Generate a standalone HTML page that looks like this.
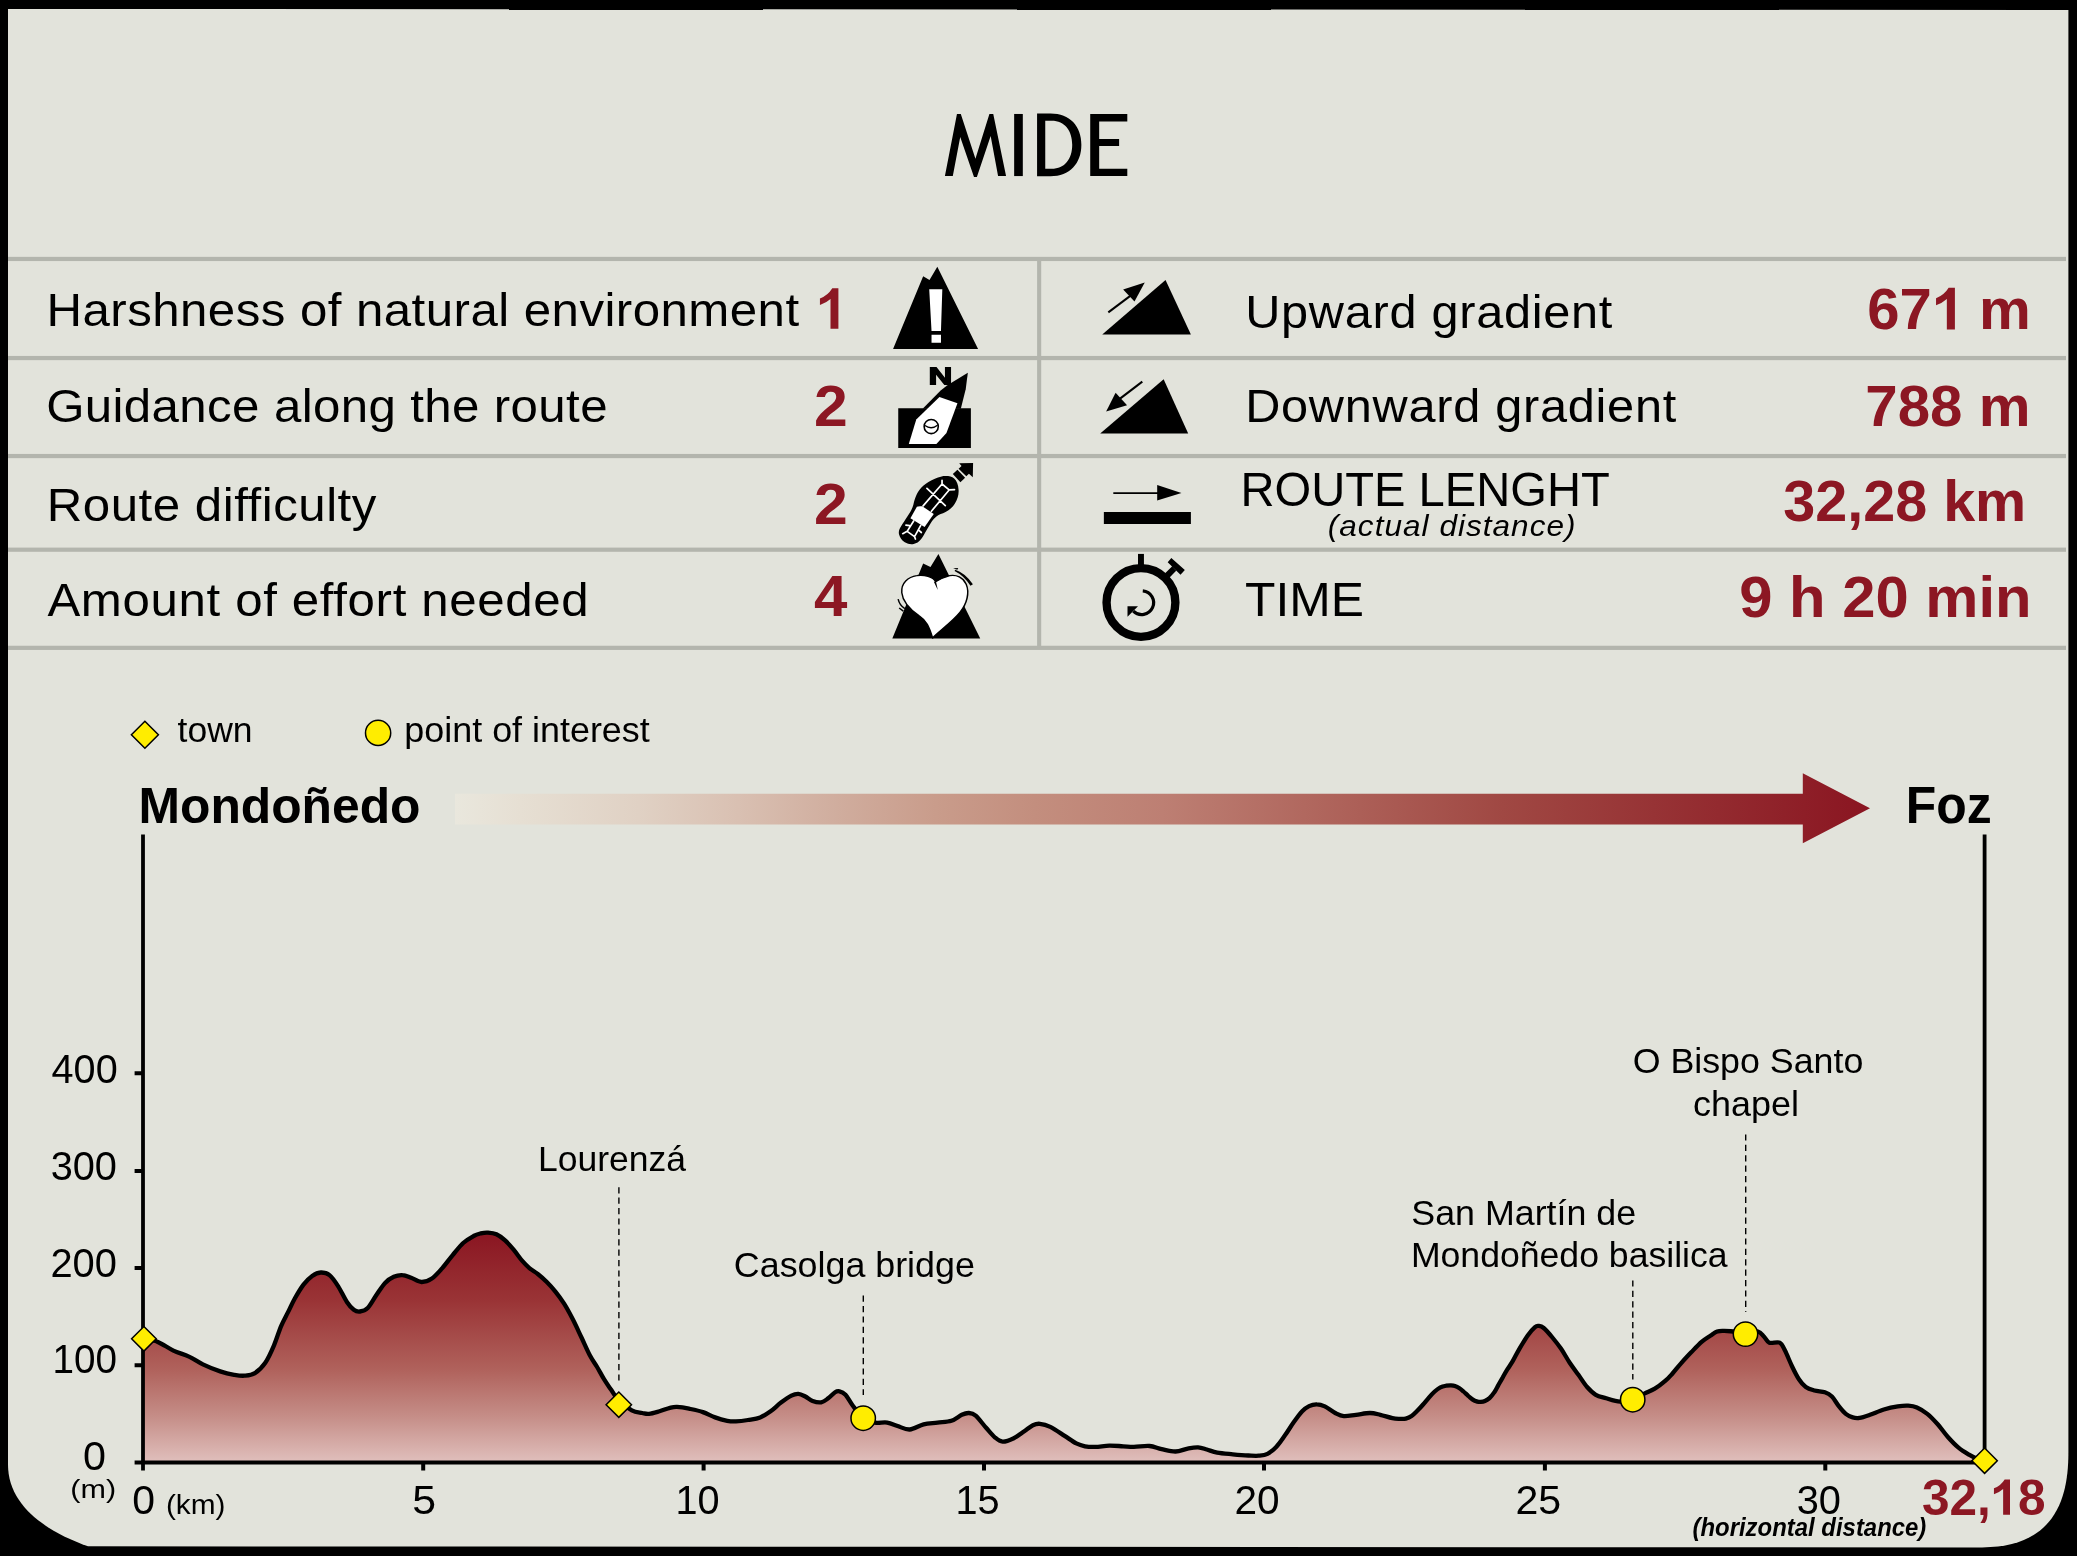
<!DOCTYPE html>
<html lang="en"><head><meta charset="utf-8"><title>MIDE</title>
<style>
html,body{margin:0;padding:0;background:#000;overflow:hidden}
svg{display:block;will-change:transform}
text{font-family:"Liberation Sans",sans-serif}
</style></head><body>
<svg width="2077" height="1556" viewBox="0 0 2077 1556">
<defs>
<linearGradient id="gArrow" gradientUnits="userSpaceOnUse" x1="455" y1="0" x2="1870" y2="0">
<stop offset="0" stop-color="#e9e7dd"/>
<stop offset="0.046" stop-color="#e6dfd3"/>
<stop offset="0.13" stop-color="#e0d1c4"/>
<stop offset="0.20" stop-color="#d9c0b2"/>
<stop offset="0.27" stop-color="#d0ad9e"/>
<stop offset="0.34" stop-color="#c99c8b"/>
<stop offset="0.41" stop-color="#c38e7e"/>
<stop offset="0.5" stop-color="#bd7f73"/>
<stop offset="0.74" stop-color="#a04843"/>
<stop offset="1" stop-color="#8a1521"/>
</linearGradient>
<linearGradient id="gArea" gradientUnits="userSpaceOnUse" x1="0" y1="1232" x2="0" y2="1462">
<stop offset="0" stop-color="#8a1521"/>
<stop offset="0.3" stop-color="#9a3436"/>
<stop offset="0.6" stop-color="#b0625c"/>
<stop offset="0.8" stop-color="#c58d87"/>
<stop offset="1" stop-color="#e0bfbc"/>
</linearGradient>
</defs>
<rect width="2077" height="1556" fill="#000"/>
<!-- panel -->
<path d="M8,9 L2068.4,10 L2068.4,1452.5 C2068.4,1495.7 2056.6,1547.4 1982.1,1547.4 L88,1546.3 C48.8,1532.4 8,1507.3 8,1464.6 Z" fill="#e2e3db"/>

<!-- table grid -->
<g fill="#b3b5ad">
<rect x="8" y="256.85" width="2058" height="4.2"/>
<rect x="8" y="355.95" width="2058" height="4.2"/>
<rect x="8" y="453.95" width="2058" height="4.2"/>
<rect x="8" y="547.6" width="2058" height="4.2"/>
<rect x="8" y="645.75" width="2058" height="4.2"/>
<rect x="1037.1" y="259" width="4.1" height="389"/>
</g>

<!-- ICONS -->
<!-- icon 1: harshness (mountain + !) -->
<g transform="translate(860,250) scale(0.13495)">
<path d="M245,733 L468,195 L515,222 L573,125 L875,733 Z" fill="#000"/>
<path d="M513,290 L610,290 L600,600 L530,600 Z M530,628 H600 V688 H530 Z" fill="#fff"/>
</g>
<!-- icon 2: compass -->
<g transform="translate(890,360) scale(0.06105)">
<path d="M135,790 H1325 V1440 H135 Z" fill="#000"/>
<path d="M652,115 H762 L900,290 V115 H1000 V408 H890 L755,240 V408 H652 Z" fill="#000"/>
<path d="M1275,210 L1000,375 L940,415 L830,500 L535,800 L1160,800 L1240,480 Z" fill="#000"/>
<path d="M810,605 L1105,710 L925,1195 L760,1375 L308,1375 L430,975 Z" fill="#fff"/>
<circle cx="675" cy="1090" r="116" fill="#fff" stroke="#000" stroke-width="26"/>
<path d="M572,1072 Q675,1150 778,1068" fill="none" stroke="#000" stroke-width="22"/>
</g>
<!-- icon 3: boot print -->
<g transform="translate(890,458) scale(0.05914)">
<path d="M940,305 C1000,305 1050,315 1085,345 C1130,385 1155,450 1160,540 C1165,620 1140,700 1100,765 C1060,830 1000,885 940,915 C880,945 830,955 790,985 C750,1015 720,1055 690,1100 C660,1150 630,1200 600,1250 C570,1300 550,1345 520,1380 C490,1420 450,1445 400,1455 C350,1465 300,1455 250,1425 C200,1395 165,1345 152,1290 C140,1235 165,1190 190,1150 C215,1110 235,1080 260,1040 C290,995 320,955 345,910 C370,865 385,830 395,790 C405,750 410,720 425,680 C445,625 465,580 500,535 C540,485 590,440 650,405 C720,365 800,330 860,315 C890,307 915,305 940,305 Z" fill="#000"/>
<path d="M1062,272 L1140,200 L1270,335 L1190,408 Z" fill="#000"/>
<path d="M1170,90 L1405,85 L1400,325 L1335,265 L1290,310 L1160,180 L1210,135 Z" fill="#000"/>
<path d="M455,825 Q470,810 545,815 L740,945 L585,1165 L345,1020 Z" fill="#fff"/>
<g fill="none" stroke="#fff" stroke-width="29" stroke-linecap="round">
<path d="M560,810 L880,440 M700,900 L1000,540 M625,515 L935,805 M880,440 L1000,540 M880,440 L880,380 M1000,540 L1090,535"/>
<path d="M400,1065 L290,1240 M520,1140 L415,1330 M290,1240 L415,1330 M290,1240 L215,1280 M415,1330 L430,1370 M270,1135 L330,1145 M490,1225 L530,1260"/>
</g>
</g>
<!-- icon 4: effort (heart on mountain) -->
<g transform="translate(885,550) scale(0.06105)">
<path d="M120,1450 L625,220 L745,280 L875,65 L1560,1450 Z" fill="#000"/>
<path d="M830,520 C790,440 640,400 520,420 C380,440 260,540 275,700 C290,860 420,980 560,1080 C680,1160 720,1250 780,1440 C900,1320 1100,1180 1230,1020 C1340,880 1390,700 1330,560 C1280,450 1170,400 1060,420 C980,440 880,490 830,520 Z" fill="#fff" stroke="#000" stroke-width="24" stroke-linejoin="round"/>
<path d="M800,520 L835,515 L865,655 Z" fill="#000"/>
<path d="M1150,325 Q1300,370 1440,560 L1400,585 Q1290,420 1140,345 Z" fill="#000"/>
<path d="M1115,298 L1200,296 L1185,322 Z" fill="#000"/>
<path d="M215,805 Q240,910 325,960 M232,950 L300,1000" fill="none" stroke="#000" stroke-width="24"/>
</g>
<!-- icon 5: upward gradient -->
<g transform="translate(1060,250) scale(0.13495)">
<path d="M313,627 L782,222 L970,627 Z" fill="#000"/>
<path d="M358,462 L560,310" stroke="#000" stroke-width="15" fill="none"/>
<path d="M628,240 L468,292 L552,382 Z" fill="#000"/>
<path d="M298,1360 L768,958 L950,1360 Z" fill="#000"/>
<path d="M610,975 L440,1105" stroke="#000" stroke-width="15" fill="none"/>
<path d="M342,1197 L412,1058 L497,1150 Z" fill="#000"/>
</g>
<!-- icon 7: route length ; icon 8: stopwatch -->
<g transform="translate(1060,450) scale(0.13495)">
<path d="M325,460 H970 V548 H325 Z" fill="#000"/>
<path d="M395,320 H730" stroke="#000" stroke-width="13" fill="none"/>
<path d="M900,318 L720,260 L720,375 Z" fill="#000"/>
<circle cx="600" cy="1130" r="255" fill="none" stroke="#000" stroke-width="62"/>
<path d="M578,770 H622 V860 H578 Z" fill="#000"/>
<path d="M825,800 L925,890 L893,925 L798,832 Z M861,894 L830,863 L769,923 L801,955 Z" fill="#000"/>
<path d="M613.4,1043.3 A88,88 0 1 1 543.5,1193.2" fill="none" stroke="#000" stroke-width="24"/>
<path d="M500,1158 L578,1158 L500,1236 Z" fill="#000"/>
</g>


<!-- legend markers -->
<path d="M144.9,721.3 L158.4,734.8 L144.9,748.3 L131.4,734.8 Z" fill="#ffed00" stroke="#000" stroke-width="1.5"/>
<circle cx="378.1" cy="732.9" r="12.6" fill="#ffed00" stroke="#000" stroke-width="1.5"/>

<!-- direction arrow -->
<path d="M455,793.8 L1802.8,793.8 L1802.8,773.3 L1870,808.3 L1802.8,843.3 L1802.8,824.4 L455,824.4 Z" fill="url(#gArrow)"/>

<!-- chart -->
<path d="M143.9,1338.8C146.2,1339.3 152.9,1339.9 157.8,1341.9C162.7,1343.9 168.2,1348.1 173.4,1350.6C178.6,1353.0 184.1,1354.3 189.0,1356.6C193.9,1358.9 197.7,1361.9 202.9,1364.4C208.1,1366.9 215.0,1369.7 220.2,1371.4C225.4,1373.1 230.0,1374.1 234.1,1374.8C238.2,1375.5 241.0,1376.0 244.5,1375.7C248.0,1375.4 251.4,1375.3 254.9,1373.1C258.4,1370.9 262.1,1367.3 265.3,1362.7C268.5,1358.1 271.4,1351.4 274.0,1345.3C276.6,1339.2 278.7,1331.8 281.0,1326.3C283.3,1320.8 285.6,1317.0 287.9,1312.4C290.2,1307.8 292.2,1303.1 294.8,1298.5C297.4,1293.9 300.6,1288.4 303.5,1284.6C306.4,1280.8 309.3,1277.9 312.2,1275.9C315.1,1273.9 318.0,1272.6 320.9,1272.5C323.8,1272.4 326.6,1272.8 329.5,1275.1C332.4,1277.4 335.3,1281.8 338.2,1286.3C341.1,1290.8 344.3,1298.1 346.9,1302.0C349.5,1305.9 351.6,1308.2 353.8,1309.8C356.0,1311.4 357.6,1311.8 359.9,1311.5C362.2,1311.2 364.9,1310.8 367.7,1308.0C370.4,1305.2 373.5,1299.2 376.4,1295.0C379.3,1290.8 382.2,1285.9 385.1,1282.9C388.0,1279.9 390.9,1278.1 393.8,1276.8C396.7,1275.5 399.5,1274.9 402.4,1275.1C405.3,1275.2 407.9,1276.5 411.1,1277.7C414.3,1278.9 418.0,1281.9 421.5,1282.0C425.0,1282.1 428.4,1280.8 431.9,1278.5C435.4,1276.2 438.8,1272.0 442.3,1268.1C445.8,1264.2 449.2,1259.3 452.7,1255.1C456.2,1250.9 459.7,1246.2 463.2,1243.0C466.7,1239.8 470.7,1237.6 473.6,1236.0C476.5,1234.4 478.4,1234.0 480.8,1233.4C483.2,1232.8 485.2,1232.4 487.8,1232.6C490.4,1232.8 493.5,1233.0 496.4,1234.3C499.3,1235.6 502.2,1237.8 505.1,1240.4C508.0,1243.0 510.9,1246.4 513.8,1249.9C516.7,1253.4 519.9,1258.2 522.5,1261.2C525.1,1264.2 526.8,1265.9 529.4,1268.1C532.0,1270.3 535.2,1271.9 538.1,1274.2C541.0,1276.5 543.9,1279.1 546.8,1282.0C549.7,1284.9 552.5,1288.0 555.4,1291.6C558.3,1295.2 561.2,1299.1 564.1,1303.7C567.0,1308.3 569.9,1313.7 572.8,1319.3C575.7,1324.9 578.6,1331.4 581.5,1337.5C584.4,1343.6 587.5,1350.9 590.1,1355.8C592.7,1360.7 594.8,1363.1 597.1,1367.0C599.4,1370.9 601.7,1375.4 604.0,1379.2C606.3,1383.0 608.5,1386.0 611.0,1389.6C613.5,1393.1 615.3,1397.0 618.8,1400.5C622.3,1404.0 627.9,1408.3 631.8,1410.4C635.7,1412.5 639.3,1412.4 642.2,1413.0C645.1,1413.6 646.2,1414.2 649.1,1413.9C652.0,1413.6 656.0,1412.3 659.5,1411.3C663.0,1410.3 667.1,1408.5 670.0,1407.8C672.9,1407.1 673.7,1406.8 676.9,1406.9C680.1,1407.1 684.7,1407.8 689.0,1408.7C693.3,1409.6 698.5,1410.6 702.9,1412.1C707.2,1413.5 711.0,1416.0 715.1,1417.4C719.2,1418.9 723.7,1420.1 727.2,1420.8C730.7,1421.5 732.4,1421.5 735.9,1421.4C739.4,1421.3 744.0,1420.7 748.0,1420.0C752.0,1419.3 756.4,1418.9 760.2,1417.4C764.0,1416.0 767.1,1413.8 770.6,1411.3C774.1,1408.8 777.5,1405.2 781.0,1402.6C784.5,1400.0 788.5,1397.2 791.4,1395.7C794.3,1394.2 796.1,1393.8 798.4,1393.9C800.7,1394.0 802.9,1395.3 805.3,1396.5C807.7,1397.7 810.0,1399.9 812.6,1400.9C815.2,1401.9 818.6,1402.7 821.2,1402.3C823.8,1401.9 825.9,1400.0 828.2,1398.3C830.5,1396.6 833.2,1393.4 835.1,1392.2C837.0,1391.0 837.8,1390.9 839.5,1391.3C841.2,1391.7 843.3,1392.5 845.5,1394.8C847.7,1397.1 849.5,1401.3 852.5,1405.2C855.5,1409.1 859.5,1415.3 863.2,1418.2C867.0,1421.1 871.0,1421.9 875.0,1422.6C879.0,1423.3 883.4,1422.0 887.2,1422.6C891.0,1423.2 893.9,1424.8 897.6,1426.0C901.4,1427.2 905.4,1429.8 909.7,1429.5C914.0,1429.2 919.0,1425.5 923.6,1424.3C928.2,1423.1 932.9,1423.2 937.5,1422.6C942.1,1422.0 947.4,1422.1 951.4,1420.8C955.4,1419.5 958.9,1416.1 961.8,1414.8C964.7,1413.5 966.4,1412.9 968.7,1413.0C971.0,1413.1 972.8,1413.1 975.7,1415.6C978.6,1418.1 982.9,1424.2 986.1,1427.8C989.3,1431.4 992.0,1435.0 994.8,1437.3C997.5,1439.6 999.4,1441.4 1002.6,1441.6C1005.8,1441.8 1010.2,1439.9 1013.8,1438.2C1017.4,1436.5 1021.1,1433.4 1024.3,1431.2C1027.5,1429.0 1030.3,1426.4 1032.9,1425.2C1035.5,1424.0 1037.0,1423.5 1039.9,1423.8C1042.8,1424.1 1046.2,1424.9 1050.3,1426.9C1054.3,1428.9 1059.9,1432.8 1064.2,1435.6C1068.5,1438.3 1072.8,1441.6 1076.3,1443.4C1079.8,1445.2 1081.8,1445.7 1085.0,1446.3C1088.2,1446.9 1091.4,1447.0 1095.4,1446.9C1099.5,1446.8 1104.7,1445.7 1109.3,1445.6C1113.9,1445.5 1119.1,1446.1 1123.2,1446.3C1127.3,1446.5 1129.5,1447.0 1133.9,1446.9C1138.3,1446.9 1144.9,1445.6 1149.5,1446.0C1154.1,1446.4 1157.3,1448.2 1161.6,1449.1C1165.9,1450.0 1171.2,1451.6 1175.5,1451.5C1179.8,1451.4 1183.9,1449.3 1187.7,1448.6C1191.5,1447.9 1194.9,1447.2 1198.1,1447.4C1201.3,1447.6 1203.6,1448.6 1206.8,1449.5C1210.0,1450.4 1212.9,1451.8 1217.2,1452.6C1221.5,1453.4 1227.6,1453.8 1232.8,1454.3C1238.0,1454.8 1244.1,1455.3 1248.4,1455.5C1252.7,1455.7 1255.6,1456.0 1258.8,1455.7C1262.0,1455.4 1264.6,1455.3 1267.5,1453.8C1270.4,1452.3 1273.3,1449.9 1276.2,1446.9C1279.1,1443.9 1281.9,1439.6 1284.8,1435.6C1287.7,1431.5 1290.6,1426.6 1293.5,1422.6C1296.4,1418.5 1299.6,1414.0 1302.2,1411.3C1304.8,1408.5 1306.6,1407.3 1309.1,1406.1C1311.5,1404.9 1314.3,1404.2 1316.9,1404.3C1319.5,1404.3 1321.8,1405.0 1324.8,1406.4C1327.8,1407.9 1332.0,1411.4 1335.2,1413.0C1338.4,1414.6 1340.3,1415.8 1343.8,1416.1C1347.3,1416.4 1351.7,1415.3 1356.0,1414.8C1360.3,1414.3 1365.9,1413.0 1369.9,1413.0C1374.0,1413.0 1376.5,1413.9 1380.3,1414.8C1384.0,1415.7 1389.1,1417.5 1392.4,1418.2C1395.7,1418.9 1397.8,1418.8 1400.0,1418.9C1402.2,1419.0 1403.9,1419.1 1405.8,1418.6C1407.7,1418.1 1409.7,1417.3 1411.6,1416.0C1413.5,1414.7 1415.4,1412.7 1417.3,1410.8C1419.2,1408.9 1421.2,1406.7 1423.1,1404.5C1425.0,1402.3 1427.0,1399.8 1428.9,1397.6C1430.8,1395.4 1432.8,1393.2 1434.7,1391.5C1436.6,1389.8 1438.5,1388.4 1440.4,1387.4C1442.3,1386.4 1444.6,1386.0 1446.2,1385.7C1447.8,1385.4 1448.8,1385.4 1450.3,1385.4C1451.8,1385.5 1453.4,1385.5 1454.9,1386.0C1456.4,1386.5 1458.1,1387.4 1459.5,1388.3C1460.9,1389.2 1462.0,1390.2 1463.5,1391.5C1465.0,1392.8 1466.7,1394.5 1468.2,1395.8C1469.8,1397.1 1471.3,1398.6 1472.8,1399.6C1474.3,1400.6 1476.1,1401.2 1477.4,1401.6C1478.8,1402.0 1479.7,1402.0 1480.9,1401.9C1482.2,1401.8 1483.5,1401.6 1484.9,1401.0C1486.3,1400.4 1488.0,1399.5 1489.5,1398.1C1491.0,1396.7 1492.8,1394.5 1494.2,1392.4C1495.7,1390.3 1496.8,1387.9 1498.2,1385.4C1499.6,1382.9 1501.2,1380.0 1502.8,1377.3C1504.3,1374.6 1505.8,1371.9 1507.5,1369.2C1509.2,1366.5 1510.7,1364.6 1512.7,1361.2C1514.7,1357.8 1516.8,1353.2 1519.4,1348.8C1522.0,1344.4 1525.5,1338.5 1528.1,1334.9C1530.7,1331.3 1533.3,1328.6 1535.0,1327.1C1536.7,1325.6 1537.0,1325.8 1538.5,1325.9C1540.0,1326.1 1541.4,1326.1 1543.7,1328.0C1546.0,1329.9 1549.5,1334.0 1552.4,1337.5C1555.3,1341.0 1558.2,1344.6 1561.1,1348.8C1564.0,1353.0 1566.8,1358.4 1569.7,1362.7C1572.6,1367.0 1575.5,1370.8 1578.4,1374.8C1581.3,1378.8 1584.2,1383.7 1587.1,1387.0C1590.0,1390.3 1592.6,1392.9 1595.8,1394.8C1599.0,1396.7 1602.2,1397.1 1606.2,1398.3C1610.2,1399.5 1615.7,1401.5 1620.1,1401.7C1624.5,1401.9 1628.7,1401.1 1632.7,1399.7C1636.7,1398.3 1640.6,1395.4 1644.3,1393.6C1648.0,1391.8 1651.3,1390.8 1654.8,1388.7C1658.3,1386.6 1662.3,1383.4 1665.2,1380.9C1668.1,1378.5 1669.5,1376.9 1672.1,1374.0C1674.7,1371.1 1677.6,1367.2 1680.8,1363.6C1684.0,1360.0 1687.7,1355.9 1691.2,1352.3C1694.7,1348.7 1698.4,1344.7 1701.6,1341.9C1704.8,1339.2 1707.7,1337.5 1710.3,1335.8C1712.9,1334.1 1714.9,1332.3 1717.2,1331.5C1719.5,1330.7 1721.3,1330.9 1724.2,1330.9C1727.1,1330.9 1731.0,1331.3 1734.6,1331.5C1738.1,1331.7 1741.6,1331.8 1745.5,1331.8C1749.4,1331.8 1754.9,1330.7 1758.0,1331.5C1761.1,1332.3 1762.2,1334.8 1764.1,1336.7C1766.0,1338.6 1766.7,1341.7 1769.3,1342.7C1771.9,1343.7 1777.1,1341.4 1779.7,1342.7C1782.3,1344.0 1783.0,1346.7 1785.0,1350.6C1787.0,1354.5 1789.7,1361.4 1792.0,1366.2C1794.3,1371.0 1796.6,1375.7 1798.9,1379.2C1801.2,1382.7 1803.2,1385.1 1805.8,1387.0C1808.4,1388.9 1811.3,1389.6 1814.5,1390.5C1817.7,1391.4 1822.0,1391.2 1824.9,1392.2C1827.8,1393.2 1829.6,1394.2 1831.9,1396.5C1834.2,1398.8 1836.5,1403.2 1838.8,1406.1C1841.1,1409.0 1843.5,1412.0 1845.8,1413.9C1848.1,1415.8 1850.4,1416.7 1852.7,1417.4C1855.0,1418.1 1856.7,1418.3 1859.6,1417.9C1862.5,1417.5 1866.0,1416.2 1870.0,1414.8C1874.0,1413.4 1879.3,1410.9 1883.9,1409.5C1888.5,1408.1 1893.8,1407.0 1897.8,1406.4C1901.8,1405.8 1905.0,1405.5 1908.2,1405.7C1911.4,1405.9 1913.7,1406.1 1916.9,1407.5C1920.1,1408.9 1923.8,1411.1 1927.3,1413.9C1930.8,1416.7 1934.2,1420.4 1937.7,1424.3C1941.2,1428.2 1944.6,1433.4 1948.1,1437.3C1951.6,1441.2 1955.0,1444.8 1958.5,1447.7C1962.0,1450.6 1965.8,1452.8 1969.0,1454.7C1972.2,1456.6 1975.0,1457.9 1977.6,1459.0C1980.2,1460.1 1983.4,1461.1 1984.6,1461.5L1984.6,1462.5L143,1462.5Z" fill="url(#gArea)"/>
<g fill="none" stroke="#000">
<path d="M143,834.4 V1470.5" stroke-width="3.8"/>
<path d="M1984.6,834.4 V1455" stroke-width="3.8"/>
<path d="M134.6,1462.5 H1984.6" stroke-width="3.8"/>
<path d="M134.6,1073.3 H143 M134.6,1171 H143 M134.6,1268.1 H143 M134.6,1365.3 H143" stroke-width="4"/>
<path d="M423.2,1462 V1470.5 M703.6,1462 V1470.5 M984,1462 V1470.5 M1264,1462 V1470.5 M1544.9,1462 V1470.5 M1825.3,1462 V1470.5" stroke-width="4"/>
<path d="M143.9,1338.8C146.2,1339.3 152.9,1339.9 157.8,1341.9C162.7,1343.9 168.2,1348.1 173.4,1350.6C178.6,1353.0 184.1,1354.3 189.0,1356.6C193.9,1358.9 197.7,1361.9 202.9,1364.4C208.1,1366.9 215.0,1369.7 220.2,1371.4C225.4,1373.1 230.0,1374.1 234.1,1374.8C238.2,1375.5 241.0,1376.0 244.5,1375.7C248.0,1375.4 251.4,1375.3 254.9,1373.1C258.4,1370.9 262.1,1367.3 265.3,1362.7C268.5,1358.1 271.4,1351.4 274.0,1345.3C276.6,1339.2 278.7,1331.8 281.0,1326.3C283.3,1320.8 285.6,1317.0 287.9,1312.4C290.2,1307.8 292.2,1303.1 294.8,1298.5C297.4,1293.9 300.6,1288.4 303.5,1284.6C306.4,1280.8 309.3,1277.9 312.2,1275.9C315.1,1273.9 318.0,1272.6 320.9,1272.5C323.8,1272.4 326.6,1272.8 329.5,1275.1C332.4,1277.4 335.3,1281.8 338.2,1286.3C341.1,1290.8 344.3,1298.1 346.9,1302.0C349.5,1305.9 351.6,1308.2 353.8,1309.8C356.0,1311.4 357.6,1311.8 359.9,1311.5C362.2,1311.2 364.9,1310.8 367.7,1308.0C370.4,1305.2 373.5,1299.2 376.4,1295.0C379.3,1290.8 382.2,1285.9 385.1,1282.9C388.0,1279.9 390.9,1278.1 393.8,1276.8C396.7,1275.5 399.5,1274.9 402.4,1275.1C405.3,1275.2 407.9,1276.5 411.1,1277.7C414.3,1278.9 418.0,1281.9 421.5,1282.0C425.0,1282.1 428.4,1280.8 431.9,1278.5C435.4,1276.2 438.8,1272.0 442.3,1268.1C445.8,1264.2 449.2,1259.3 452.7,1255.1C456.2,1250.9 459.7,1246.2 463.2,1243.0C466.7,1239.8 470.7,1237.6 473.6,1236.0C476.5,1234.4 478.4,1234.0 480.8,1233.4C483.2,1232.8 485.2,1232.4 487.8,1232.6C490.4,1232.8 493.5,1233.0 496.4,1234.3C499.3,1235.6 502.2,1237.8 505.1,1240.4C508.0,1243.0 510.9,1246.4 513.8,1249.9C516.7,1253.4 519.9,1258.2 522.5,1261.2C525.1,1264.2 526.8,1265.9 529.4,1268.1C532.0,1270.3 535.2,1271.9 538.1,1274.2C541.0,1276.5 543.9,1279.1 546.8,1282.0C549.7,1284.9 552.5,1288.0 555.4,1291.6C558.3,1295.2 561.2,1299.1 564.1,1303.7C567.0,1308.3 569.9,1313.7 572.8,1319.3C575.7,1324.9 578.6,1331.4 581.5,1337.5C584.4,1343.6 587.5,1350.9 590.1,1355.8C592.7,1360.7 594.8,1363.1 597.1,1367.0C599.4,1370.9 601.7,1375.4 604.0,1379.2C606.3,1383.0 608.5,1386.0 611.0,1389.6C613.5,1393.1 615.3,1397.0 618.8,1400.5C622.3,1404.0 627.9,1408.3 631.8,1410.4C635.7,1412.5 639.3,1412.4 642.2,1413.0C645.1,1413.6 646.2,1414.2 649.1,1413.9C652.0,1413.6 656.0,1412.3 659.5,1411.3C663.0,1410.3 667.1,1408.5 670.0,1407.8C672.9,1407.1 673.7,1406.8 676.9,1406.9C680.1,1407.1 684.7,1407.8 689.0,1408.7C693.3,1409.6 698.5,1410.6 702.9,1412.1C707.2,1413.5 711.0,1416.0 715.1,1417.4C719.2,1418.9 723.7,1420.1 727.2,1420.8C730.7,1421.5 732.4,1421.5 735.9,1421.4C739.4,1421.3 744.0,1420.7 748.0,1420.0C752.0,1419.3 756.4,1418.9 760.2,1417.4C764.0,1416.0 767.1,1413.8 770.6,1411.3C774.1,1408.8 777.5,1405.2 781.0,1402.6C784.5,1400.0 788.5,1397.2 791.4,1395.7C794.3,1394.2 796.1,1393.8 798.4,1393.9C800.7,1394.0 802.9,1395.3 805.3,1396.5C807.7,1397.7 810.0,1399.9 812.6,1400.9C815.2,1401.9 818.6,1402.7 821.2,1402.3C823.8,1401.9 825.9,1400.0 828.2,1398.3C830.5,1396.6 833.2,1393.4 835.1,1392.2C837.0,1391.0 837.8,1390.9 839.5,1391.3C841.2,1391.7 843.3,1392.5 845.5,1394.8C847.7,1397.1 849.5,1401.3 852.5,1405.2C855.5,1409.1 859.5,1415.3 863.2,1418.2C867.0,1421.1 871.0,1421.9 875.0,1422.6C879.0,1423.3 883.4,1422.0 887.2,1422.6C891.0,1423.2 893.9,1424.8 897.6,1426.0C901.4,1427.2 905.4,1429.8 909.7,1429.5C914.0,1429.2 919.0,1425.5 923.6,1424.3C928.2,1423.1 932.9,1423.2 937.5,1422.6C942.1,1422.0 947.4,1422.1 951.4,1420.8C955.4,1419.5 958.9,1416.1 961.8,1414.8C964.7,1413.5 966.4,1412.9 968.7,1413.0C971.0,1413.1 972.8,1413.1 975.7,1415.6C978.6,1418.1 982.9,1424.2 986.1,1427.8C989.3,1431.4 992.0,1435.0 994.8,1437.3C997.5,1439.6 999.4,1441.4 1002.6,1441.6C1005.8,1441.8 1010.2,1439.9 1013.8,1438.2C1017.4,1436.5 1021.1,1433.4 1024.3,1431.2C1027.5,1429.0 1030.3,1426.4 1032.9,1425.2C1035.5,1424.0 1037.0,1423.5 1039.9,1423.8C1042.8,1424.1 1046.2,1424.9 1050.3,1426.9C1054.3,1428.9 1059.9,1432.8 1064.2,1435.6C1068.5,1438.3 1072.8,1441.6 1076.3,1443.4C1079.8,1445.2 1081.8,1445.7 1085.0,1446.3C1088.2,1446.9 1091.4,1447.0 1095.4,1446.9C1099.5,1446.8 1104.7,1445.7 1109.3,1445.6C1113.9,1445.5 1119.1,1446.1 1123.2,1446.3C1127.3,1446.5 1129.5,1447.0 1133.9,1446.9C1138.3,1446.9 1144.9,1445.6 1149.5,1446.0C1154.1,1446.4 1157.3,1448.2 1161.6,1449.1C1165.9,1450.0 1171.2,1451.6 1175.5,1451.5C1179.8,1451.4 1183.9,1449.3 1187.7,1448.6C1191.5,1447.9 1194.9,1447.2 1198.1,1447.4C1201.3,1447.6 1203.6,1448.6 1206.8,1449.5C1210.0,1450.4 1212.9,1451.8 1217.2,1452.6C1221.5,1453.4 1227.6,1453.8 1232.8,1454.3C1238.0,1454.8 1244.1,1455.3 1248.4,1455.5C1252.7,1455.7 1255.6,1456.0 1258.8,1455.7C1262.0,1455.4 1264.6,1455.3 1267.5,1453.8C1270.4,1452.3 1273.3,1449.9 1276.2,1446.9C1279.1,1443.9 1281.9,1439.6 1284.8,1435.6C1287.7,1431.5 1290.6,1426.6 1293.5,1422.6C1296.4,1418.5 1299.6,1414.0 1302.2,1411.3C1304.8,1408.5 1306.6,1407.3 1309.1,1406.1C1311.5,1404.9 1314.3,1404.2 1316.9,1404.3C1319.5,1404.3 1321.8,1405.0 1324.8,1406.4C1327.8,1407.9 1332.0,1411.4 1335.2,1413.0C1338.4,1414.6 1340.3,1415.8 1343.8,1416.1C1347.3,1416.4 1351.7,1415.3 1356.0,1414.8C1360.3,1414.3 1365.9,1413.0 1369.9,1413.0C1374.0,1413.0 1376.5,1413.9 1380.3,1414.8C1384.0,1415.7 1389.1,1417.5 1392.4,1418.2C1395.7,1418.9 1397.8,1418.8 1400.0,1418.9C1402.2,1419.0 1403.9,1419.1 1405.8,1418.6C1407.7,1418.1 1409.7,1417.3 1411.6,1416.0C1413.5,1414.7 1415.4,1412.7 1417.3,1410.8C1419.2,1408.9 1421.2,1406.7 1423.1,1404.5C1425.0,1402.3 1427.0,1399.8 1428.9,1397.6C1430.8,1395.4 1432.8,1393.2 1434.7,1391.5C1436.6,1389.8 1438.5,1388.4 1440.4,1387.4C1442.3,1386.4 1444.6,1386.0 1446.2,1385.7C1447.8,1385.4 1448.8,1385.4 1450.3,1385.4C1451.8,1385.5 1453.4,1385.5 1454.9,1386.0C1456.4,1386.5 1458.1,1387.4 1459.5,1388.3C1460.9,1389.2 1462.0,1390.2 1463.5,1391.5C1465.0,1392.8 1466.7,1394.5 1468.2,1395.8C1469.8,1397.1 1471.3,1398.6 1472.8,1399.6C1474.3,1400.6 1476.1,1401.2 1477.4,1401.6C1478.8,1402.0 1479.7,1402.0 1480.9,1401.9C1482.2,1401.8 1483.5,1401.6 1484.9,1401.0C1486.3,1400.4 1488.0,1399.5 1489.5,1398.1C1491.0,1396.7 1492.8,1394.5 1494.2,1392.4C1495.7,1390.3 1496.8,1387.9 1498.2,1385.4C1499.6,1382.9 1501.2,1380.0 1502.8,1377.3C1504.3,1374.6 1505.8,1371.9 1507.5,1369.2C1509.2,1366.5 1510.7,1364.6 1512.7,1361.2C1514.7,1357.8 1516.8,1353.2 1519.4,1348.8C1522.0,1344.4 1525.5,1338.5 1528.1,1334.9C1530.7,1331.3 1533.3,1328.6 1535.0,1327.1C1536.7,1325.6 1537.0,1325.8 1538.5,1325.9C1540.0,1326.1 1541.4,1326.1 1543.7,1328.0C1546.0,1329.9 1549.5,1334.0 1552.4,1337.5C1555.3,1341.0 1558.2,1344.6 1561.1,1348.8C1564.0,1353.0 1566.8,1358.4 1569.7,1362.7C1572.6,1367.0 1575.5,1370.8 1578.4,1374.8C1581.3,1378.8 1584.2,1383.7 1587.1,1387.0C1590.0,1390.3 1592.6,1392.9 1595.8,1394.8C1599.0,1396.7 1602.2,1397.1 1606.2,1398.3C1610.2,1399.5 1615.7,1401.5 1620.1,1401.7C1624.5,1401.9 1628.7,1401.1 1632.7,1399.7C1636.7,1398.3 1640.6,1395.4 1644.3,1393.6C1648.0,1391.8 1651.3,1390.8 1654.8,1388.7C1658.3,1386.6 1662.3,1383.4 1665.2,1380.9C1668.1,1378.5 1669.5,1376.9 1672.1,1374.0C1674.7,1371.1 1677.6,1367.2 1680.8,1363.6C1684.0,1360.0 1687.7,1355.9 1691.2,1352.3C1694.7,1348.7 1698.4,1344.7 1701.6,1341.9C1704.8,1339.2 1707.7,1337.5 1710.3,1335.8C1712.9,1334.1 1714.9,1332.3 1717.2,1331.5C1719.5,1330.7 1721.3,1330.9 1724.2,1330.9C1727.1,1330.9 1731.0,1331.3 1734.6,1331.5C1738.1,1331.7 1741.6,1331.8 1745.5,1331.8C1749.4,1331.8 1754.9,1330.7 1758.0,1331.5C1761.1,1332.3 1762.2,1334.8 1764.1,1336.7C1766.0,1338.6 1766.7,1341.7 1769.3,1342.7C1771.9,1343.7 1777.1,1341.4 1779.7,1342.7C1782.3,1344.0 1783.0,1346.7 1785.0,1350.6C1787.0,1354.5 1789.7,1361.4 1792.0,1366.2C1794.3,1371.0 1796.6,1375.7 1798.9,1379.2C1801.2,1382.7 1803.2,1385.1 1805.8,1387.0C1808.4,1388.9 1811.3,1389.6 1814.5,1390.5C1817.7,1391.4 1822.0,1391.2 1824.9,1392.2C1827.8,1393.2 1829.6,1394.2 1831.9,1396.5C1834.2,1398.8 1836.5,1403.2 1838.8,1406.1C1841.1,1409.0 1843.5,1412.0 1845.8,1413.9C1848.1,1415.8 1850.4,1416.7 1852.7,1417.4C1855.0,1418.1 1856.7,1418.3 1859.6,1417.9C1862.5,1417.5 1866.0,1416.2 1870.0,1414.8C1874.0,1413.4 1879.3,1410.9 1883.9,1409.5C1888.5,1408.1 1893.8,1407.0 1897.8,1406.4C1901.8,1405.8 1905.0,1405.5 1908.2,1405.7C1911.4,1405.9 1913.7,1406.1 1916.9,1407.5C1920.1,1408.9 1923.8,1411.1 1927.3,1413.9C1930.8,1416.7 1934.2,1420.4 1937.7,1424.3C1941.2,1428.2 1944.6,1433.4 1948.1,1437.3C1951.6,1441.2 1955.0,1444.8 1958.5,1447.7C1962.0,1450.6 1965.8,1452.8 1969.0,1454.7C1972.2,1456.6 1975.0,1457.9 1977.6,1459.0C1980.2,1460.1 1983.4,1461.1 1984.6,1461.5" stroke-width="4.3" stroke-linejoin="round" stroke-linecap="round"/>
<g stroke-width="1.4" stroke-dasharray="6.2 4.2">
<path d="M618.9,1187.2 V1381"/>
<path d="M863.3,1295.6 V1395"/>
<path d="M1632.8,1280.4 V1379.4"/>
<path d="M1745.7,1134.4 V1312"/>
</g>
</g>
<!-- markers -->
<g fill="#ffed00" stroke="#000" stroke-width="1.5">
<path d="M143.9,1326.5 L156.2,1338.8 L143.9,1351.1 L131.6,1338.8 Z"/>
<path d="M618.8,1392.0 L631.5,1404.7 L618.8,1417.4 L606.1,1404.7 Z"/>
<path d="M1984.6,1448.0 L1997.3,1460.7 L1984.6,1473.4 L1971.9,1460.7 Z"/>
<circle cx="863.2" cy="1418.2" r="12.2"/>
<circle cx="1632.7" cy="1399.7" r="12.2"/>
<circle cx="1745.5" cy="1334.1" r="12.2"/>
</g>

<!-- MIDE title -->
<g transform="translate(935,100) scale(0.096293)" fill="#000">
<path d="M103,790 L228,145 L268,145 L420,610 L565,145 L605,145 L738,790 L655,790 L578,375 L435,800 L405,800 L262,385 L185,790 Z"/>
<path d="M822,145 H912 V790 H822 Z"/>
<path d="M1060,140 H1200 C1400,140 1520,270 1520,465 C1520,660 1400,792 1200,792 H1060 Z M1145,215 V715 H1210 C1350,715 1425,610 1425,465 C1425,320 1350,215 1210,215 Z" fill-rule="evenodd"/>
<path d="M1612,145 H1997 V222 H1705 V405 H1912 V478 H1705 V713 H1997 V790 H1612 Z"/>
</g>


<!-- texts -->
<text transform="translate(46.50 325.60) scale(1.07 1)" font-size="46" textLength="703.39" lengthAdjust="spacing" fill="#000">Harshness of natural environment</text>
<text transform="translate(46.16 421.50) scale(1.07 1)" font-size="46" textLength="524.66" lengthAdjust="spacing" fill="#000">Guidance along the route</text>
<text transform="translate(46.69 520.70) scale(1.07 1)" font-size="46" textLength="308.17" lengthAdjust="spacing" fill="#000">Route difficulty</text>
<text transform="translate(47.40 616.30) scale(1.07 1)" font-size="46" textLength="505.92" lengthAdjust="spacing" fill="#000">Amount of effort needed</text>
<text x="814.07" y="426.00" font-size="57" textLength="33.76" lengthAdjust="spacingAndGlyphs" fill="#8c1723" font-weight="bold">2</text>
<text x="814.07" y="524.00" font-size="57" textLength="33.76" lengthAdjust="spacingAndGlyphs" fill="#8c1723" font-weight="bold">2</text>
<text x="814.09" y="616.00" font-size="57" textLength="33.41" lengthAdjust="spacingAndGlyphs" fill="#8c1723" font-weight="bold">4</text>
<text transform="translate(1245.16 327.60) scale(1.07 1)" font-size="45.5" textLength="343.18" lengthAdjust="spacing" fill="#000">Upward gradient</text>
<text transform="translate(1245.20 422.00) scale(1.07 1)" font-size="45.5" textLength="402.83" lengthAdjust="spacing" fill="#000">Downward gradient</text>
<text x="1240.56" y="505.80" font-size="49" textLength="369.15" lengthAdjust="spacingAndGlyphs" fill="#000">ROUTE LENGHT</text>
<text transform="translate(1327.79 535.90) scale(1.07 1)" font-size="29.5" textLength="231.54" lengthAdjust="spacing" fill="#000" font-style="italic">(actual distance)</text>
<text x="1245.09" y="616.20" font-size="49" textLength="119.01" lengthAdjust="spacingAndGlyphs" fill="#000">TIME</text>
<text x="1867.31" y="329.40" font-size="58" textLength="64.55" lengthAdjust="spacingAndGlyphs" fill="#8c1723" font-weight="bold">67</text>
<text x="1979.11" y="329.40" font-size="58" textLength="51.83" lengthAdjust="spacingAndGlyphs" fill="#8c1723" font-weight="bold">m</text>
<text x="1865.33" y="426.10" font-size="58" textLength="165.12" lengthAdjust="spacingAndGlyphs" fill="#8c1723" font-weight="bold">788 m</text>
<text x="1783.37" y="521.30" font-size="58" textLength="242.84" lengthAdjust="spacingAndGlyphs" fill="#8c1723" font-weight="bold">32,28 km</text>
<text x="1739.31" y="616.60" font-size="58" textLength="292.17" lengthAdjust="spacingAndGlyphs" fill="#8c1723" font-weight="bold">9 h 20 min</text>
<text x="177.56" y="742.20" font-size="35" textLength="74.94" lengthAdjust="spacingAndGlyphs" fill="#000">town</text>
<text x="404.34" y="742.20" font-size="35" textLength="245.42" lengthAdjust="spacingAndGlyphs" fill="#000">point of interest</text>
<text x="138.50" y="822.50" font-size="50" textLength="282.04" lengthAdjust="spacingAndGlyphs" fill="#000" font-weight="bold">Mondoñedo</text>
<text x="1905.86" y="822.70" font-size="51" textLength="85.96" lengthAdjust="spacingAndGlyphs" fill="#000" font-weight="bold">Foz</text>
<text x="51.60" y="1082.80" font-size="40.3" textLength="66.06" lengthAdjust="spacingAndGlyphs" fill="#000">400</text>
<text x="50.63" y="1179.60" font-size="40.3" textLength="66.30" lengthAdjust="spacingAndGlyphs" fill="#000">300</text>
<text x="50.45" y="1277.30" font-size="40.3" textLength="66.48" lengthAdjust="spacingAndGlyphs" fill="#000">200</text>
<text x="52.40" y="1373.20" font-size="40.3" textLength="64.48" lengthAdjust="spacingAndGlyphs" fill="#000">100</text>
<text x="82.98" y="1470.10" font-size="40.3" textLength="22.96" lengthAdjust="spacingAndGlyphs" fill="#000">0</text>
<text x="70.37" y="1498.00" font-size="26.5" textLength="45.80" lengthAdjust="spacingAndGlyphs" fill="#000">(m)</text>
<text x="132.27" y="1514.30" font-size="40.3" textLength="22.78" lengthAdjust="spacingAndGlyphs" fill="#000">0</text>
<text x="165.90" y="1513.90" font-size="27" textLength="59.55" lengthAdjust="spacingAndGlyphs" fill="#000">(km)</text>
<text x="412.23" y="1514.30" font-size="40.3" textLength="23.82" lengthAdjust="spacingAndGlyphs" fill="#000">5</text>
<text x="675.54" y="1514.30" font-size="40.3" textLength="44.12" lengthAdjust="spacingAndGlyphs" fill="#000">10</text>
<text x="955.55" y="1514.30" font-size="40.3" textLength="44.15" lengthAdjust="spacingAndGlyphs" fill="#000">15</text>
<text x="1234.45" y="1514.30" font-size="40.3" textLength="45.13" lengthAdjust="spacingAndGlyphs" fill="#000">20</text>
<text x="1515.40" y="1514.30" font-size="40.3" textLength="45.71" lengthAdjust="spacingAndGlyphs" fill="#000">25</text>
<text x="1796.69" y="1514.30" font-size="40.3" textLength="44.28" lengthAdjust="spacingAndGlyphs" fill="#000">30</text>
<text x="1921.91" y="1514.80" font-size="49.5" textLength="68.89" lengthAdjust="spacingAndGlyphs" fill="#8c1723" font-weight="bold">32,</text>
<text x="2018.01" y="1514.80" font-size="49.5" textLength="27.56" lengthAdjust="spacingAndGlyphs" fill="#8c1723" font-weight="bold">8</text>
<text x="1692.50" y="1536.30" font-size="26" textLength="233.81" lengthAdjust="spacingAndGlyphs" fill="#000" font-weight="bold" font-style="italic">(horizontal distance)</text>
<text x="537.89" y="1171.00" font-size="35.7" textLength="148.14" lengthAdjust="spacingAndGlyphs" fill="#000">Lourenzá</text>
<text x="733.85" y="1276.60" font-size="35.7" textLength="241.03" lengthAdjust="spacingAndGlyphs" fill="#000">Casolga bridge</text>
<text x="1632.67" y="1072.60" font-size="35.7" textLength="230.69" lengthAdjust="spacingAndGlyphs" fill="#000">O Bispo Santo</text>
<text x="1693.03" y="1115.60" font-size="35.7" textLength="105.91" lengthAdjust="spacingAndGlyphs" fill="#000">chapel</text>
<text x="1411.27" y="1224.60" font-size="35.7" textLength="224.91" lengthAdjust="spacingAndGlyphs" fill="#000">San Martín de</text>
<text x="1410.88" y="1267.40" font-size="35.7" textLength="316.76" lengthAdjust="spacingAndGlyphs" fill="#000">Mondoñedo basilica</text>
<path fill="#8c1723" d="M838.40,288.13 L838.40,328.80 L830.50,328.80 L830.50,299.09 Q826.26,302.97 819.94,305.11 L819.94,298.39 Q828.03,295.20 832.27,288.13 Z M1954.90,287.87 L1954.90,329.40 L1946.84,329.40 L1946.84,299.07 Q1942.51,303.03 1936.05,305.21 L1936.05,298.35 Q1944.31,295.09 1948.64,287.87 Z M2010.00,1479.43 L2010.00,1514.80 L2003.13,1514.80 L2003.13,1488.96 Q1999.44,1492.34 1993.94,1494.20 L1993.94,1488.35 Q2000.98,1485.57 2004.66,1479.43 Z"/>
</svg>

</body></html>
